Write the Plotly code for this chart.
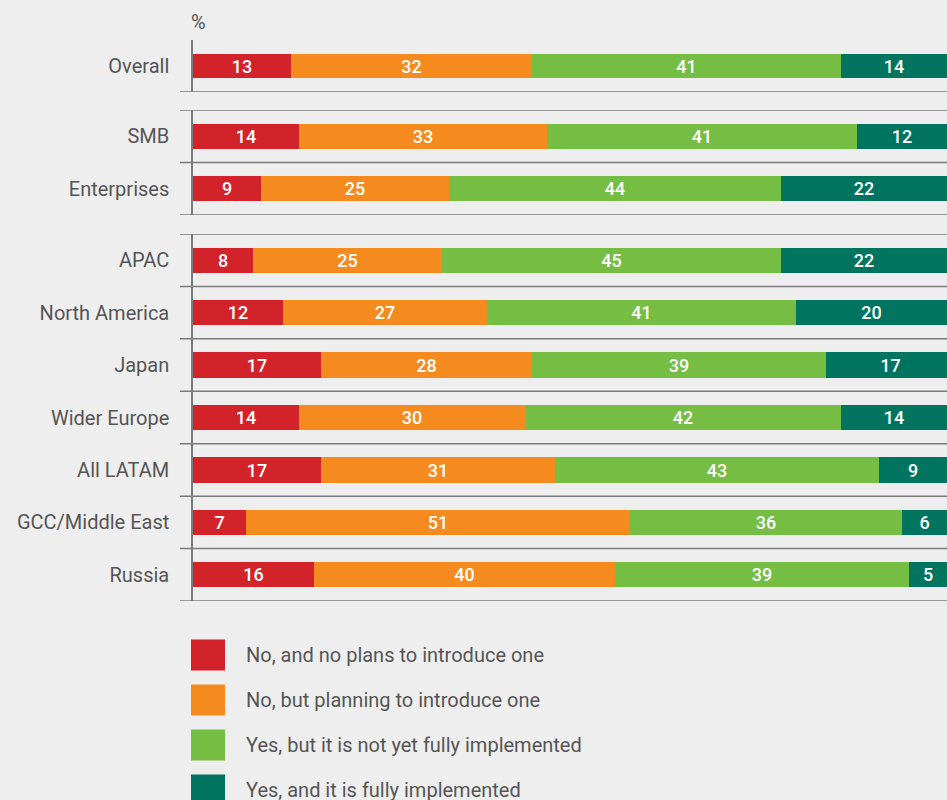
import plotly.graph_objects as go

# ---- data ----
categories = ["Overall", "SMB", "Enterprises", "APAC", "North America", "Japan",
              "Wider Europe", "All LATAM", "GCC/Middle East", "Russia"]
groups = [1, 2, 2, 3, 3, 3, 3, 3, 3, 3]
series_names = ["No, and no plans to introduce one",
                "No, but planning to introduce one",
                "Yes, but it is not yet fully implemented",
                "Yes, and it is fully implemented"]
no_plans = [13, 14, 9, 8, 12, 17, 14, 17, 7, 16]
planning = [32, 33, 25, 25, 27, 28, 30, 31, 51, 40]
partial = [41, 41, 44, 45, 41, 39, 42, 43, 36, 39]
full = [14, 12, 22, 22, 20, 17, 14, 9, 6, 5]
values = [no_plans, planning, partial, full]
colors = ["#d2232a", "#f58b1f", "#76bd43", "#00745f"]

W, H = 947, 800
BG = "#eeeeee"
LINE = "#7a7a7a"
TXT = "#555555"
FONT = "Roboto"


def px(x):
    return x / W


def py(y):
    return 1 - y / H


panels = [(40, 92), (110, 215), (234, 601)]

fig = go.Figure()
layout_axes = {}
shapes = []
for p in range(3):
    idx = [i for i, g in enumerate(groups) if g == p + 1]
    cats = [categories[i] for i in idx]
    n = len(cats)
    xa = "x" if p == 0 else f"x{p+1}"
    ya = "y" if p == 0 else f"y{p+1}"
    for s, name in enumerate(series_names):
        vals = [values[s][i] for i in idx]
        fig.add_trace(go.Bar(
            x=vals, y=cats, orientation="h", name=name,
            marker=dict(color=colors[s], line=dict(width=0)),
            text=[str(v) for v in vals], textposition="inside",
            insidetextanchor="middle", textangle=0, constraintext="none",
            textfont=dict(color="white", size=18, family=FONT, weight=500),
            width=0.48, xaxis=xa, yaxis=ya, showlegend=False,
            hoverinfo="skip", cliponaxis=True,
        ))
    top, bot = panels[p]
    xkey = "xaxis" if p == 0 else f"xaxis{p+1}"
    ykey = "yaxis" if p == 0 else f"yaxis{p+1}"
    layout_axes[xkey] = dict(domain=[px(193), 1], range=[0, 100], visible=False,
                             anchor=ya, fixedrange=True)
    layout_axes[ykey] = dict(domain=[py(bot), py(top)], type="category",
                             categoryorder="array", categoryarray=cats,
                             range=[n - 0.5, -0.5], anchor=xa,
                             showline=True, linecolor=LINE, linewidth=1.5,
                             ticks="", ticklabelstandoff=18,
                             tickfont=dict(size=20, color=TXT, family=FONT),
                             showgrid=False, zeroline=False, fixedrange=True)
    bounds = [i + 0.5 for i in range(n)]
    if p > 0:
        bounds = [-0.5] + bounds
    for b in bounds:
        shapes.append(dict(type="line", xref="paper", yref=ya,
                           x0=px(180), x1=1, y0=b, y1=b,
                           line=dict(color=LINE, width=1.5), layer="above"))

# custom legend
annotations = [dict(text="%", xref="paper", yref="paper", x=px(189), y=py(22),
                    xanchor="left", yanchor="middle", showarrow=False,
                    font=dict(size=20, color=TXT, family=FONT))]
for s, name in enumerate(series_names):
    yc = 655 + 45 * s
    shapes.append(dict(type="rect", xref="paper", yref="paper",
                       x0=px(191), x1=px(225), y0=py(yc + 15.5), y1=py(yc - 15.5),
                       fillcolor=colors[s], line=dict(width=0)))
    annotations.append(dict(text=name, xref="paper", yref="paper",
                            x=px(244), y=py(yc), xanchor="left", yanchor="middle",
                            showarrow=False,
                            font=dict(size=20, color=TXT, family=FONT)))

fig.update_layout(
    width=W, height=H, margin=dict(l=0, r=0, t=0, b=0),
    paper_bgcolor=BG, plot_bgcolor=BG, barmode="stack", bargap=0,
    shapes=shapes, annotations=annotations, showlegend=False,
    **layout_axes,
)

fig.write_html("out.html", config={"displayModeBar": False})
